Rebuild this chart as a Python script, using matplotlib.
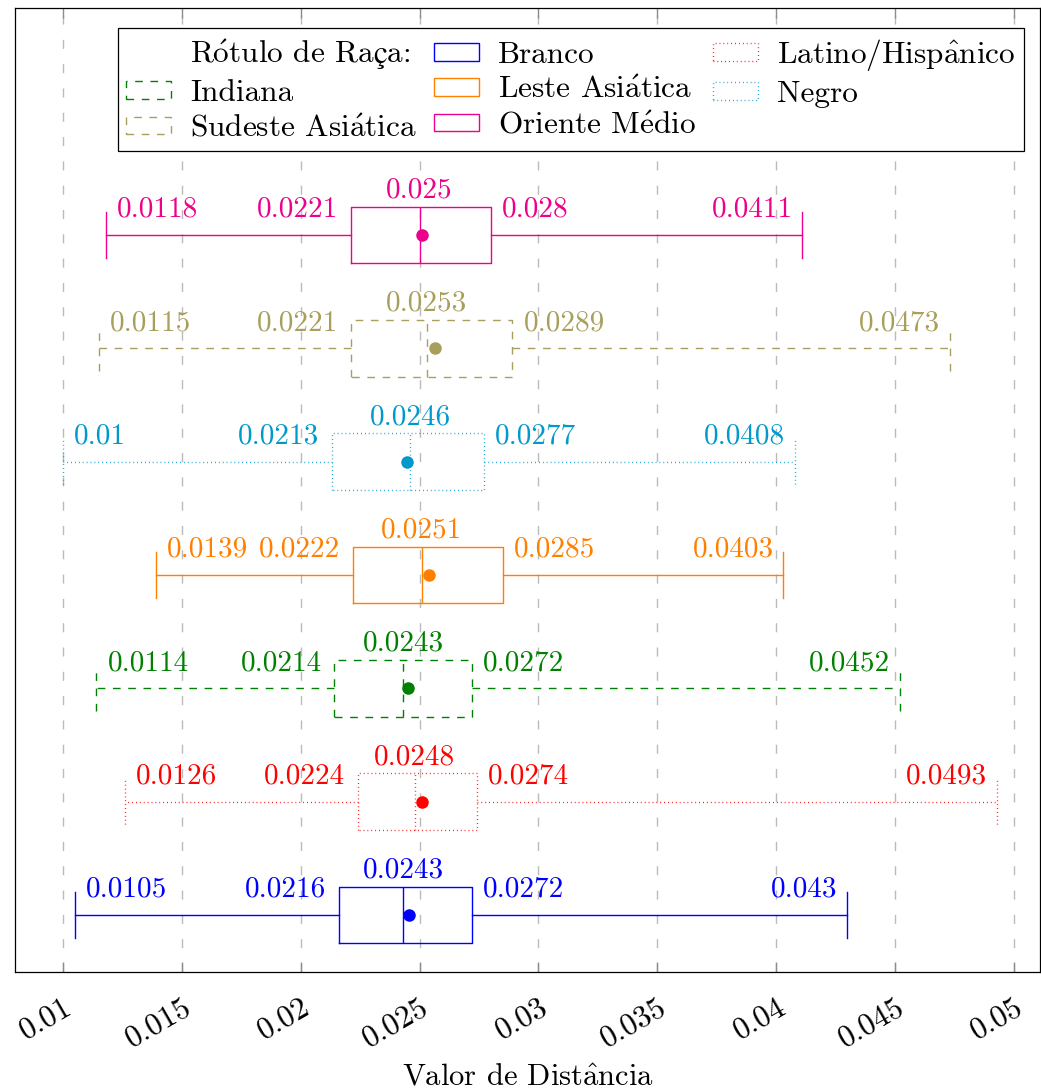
import numpy as np
import matplotlib
matplotlib.use("Agg")
import matplotlib.pyplot as plt
from matplotlib.patches import Patch

plt.rcParams['font.family'] = ['cmr10', 'STIXGeneral']
plt.rcParams['mathtext.fontset'] = 'cm'
plt.rcParams['axes.formatter.use_mathtext'] = True

# grupos de baixo para cima
grupos = ["Branco", "Latino/Hispânico", "Indiana", "Leste Asiática",
          "Negro", "Sudeste Asiática", "Oriente Médio"]
minimos = [0.0105, 0.0126, 0.0114, 0.0139, 0.01, 0.0115, 0.0118]
q1s = [0.0216, 0.0224, 0.0214, 0.0222, 0.0213, 0.0221, 0.0221]
medianas = [0.0243, 0.0248, 0.0243, 0.0251, 0.0246, 0.0253, 0.025]
q3s = [0.0272, 0.0274, 0.0272, 0.0285, 0.0277, 0.0289, 0.028]
maximos = [0.043, 0.0493, 0.0452, 0.0403, 0.0408, 0.0473, 0.0411]
medias = [0.02455, 0.0251, 0.0245, 0.0254, 0.02445, 0.02565, 0.0251]

cores = ["#0000FF", "#FF0000", "#008000", "#FF8000", "#0099CC", "#A89F5C", "#EC008C"]
tracado = (0, (5.5, 5.5))
pontilhado = (0, (0.6, 2.2))
estilos = ["-", pontilhado, tracado, "-", pontilhado, tracado, "-"]

xticks = [0.01, 0.015, 0.02, 0.025, 0.03, 0.035, 0.04, 0.045, 0.05]


# acentos com o fonte cm do mathtext
def tex(s):
    trocas = {"ó": r"$\mathrm{\acute{o}}$", "á": r"$\mathrm{\acute{a}}$",
              "é": r"$\mathrm{\acute{e}}$", "â": r"$\mathrm{\hat{a}}$",
              "ç": r"$\mathrm{ç}$"}
    for k, v in trocas.items():
        s = s.replace(k, v)
    return s


fig = plt.figure(figsize=(10.41, 10.89), dpi=100)
ax = fig.add_axes([15 / 1041, 1 - 972 / 1089, 1025 / 1041, 964 / 1089])

fs = 21
for i in range(len(grupos)):
    pos = i + 1
    cor = cores[i]
    ls = estilos[i]
    stats = [dict(med=medianas[i], q1=q1s[i], q3=q3s[i], whislo=minimos[i],
                  whishi=maximos[i], mean=medias[i], fliers=[])]
    props = dict(color=cor, linestyle=ls, linewidth=1.0)
    ax.bxp(stats, positions=[pos], widths=0.5, capwidths=0.4, vert=False,
           showmeans=True, boxprops=props, whiskerprops=props, capprops=props,
           medianprops=props,
           meanprops=dict(marker="o", markerfacecolor=cor, markeredgecolor=cor,
                          markersize=8, linestyle="none"),
           manage_ticks=False)

    ax.annotate(f"{minimos[i]:g}", (minimos[i], pos), xytext=(8, 13),
                textcoords="offset points", ha="left", va="baseline", color=cor, fontsize=fs)
    ax.annotate(f"{q1s[i]:g}", (q1s[i], pos), xytext=(-9, 13),
                textcoords="offset points", ha="right", va="baseline", color=cor, fontsize=fs)
    ax.annotate(f"{medianas[i]:g}", (medianas[i], pos), xytext=(0, 27),
                textcoords="offset points", ha="center", va="baseline", color=cor, fontsize=fs)
    ax.annotate(f"{q3s[i]:g}", (q3s[i], pos), xytext=(8, 13),
                textcoords="offset points", ha="left", va="baseline", color=cor, fontsize=fs)
    ax.annotate(f"{maximos[i]:g}", (maximos[i], pos), xytext=(-7, 13),
                textcoords="offset points", ha="right", va="baseline", color=cor, fontsize=fs)

ax.set_xlim(0.00798, 0.0511)
ax.set_ylim(0.497, 9.003)
ax.set_yticks([])
ax.set_xticks(xticks, labels=[f"{t:g}" for t in xticks], fontsize=22.5)
plt.setp(ax.get_xticklabels(), rotation=30, ha="right", rotation_mode="anchor")
ax.tick_params(axis="x", direction="in", length=7, width=1.0, color="#8C8C8C",
               top=True, pad=15)
ax.grid(axis="x", color="#BBBBBB", linestyle=(0, (6.5, 11)), linewidth=1.0)
ax.set_axisbelow(True)
ax.set_xlabel(tex("Valor de Distância"), fontsize=22, labelpad=8)
for s in ax.spines.values():
    s.set_linewidth(0.9)

# legenda
ordem = [2, 5, 0, 3, 6, 1, 4]
handles = [Patch(facecolor="none", edgecolor="none")]
labels = [tex("Rótulo de Raça:")]
for k in ordem:
    handles.append(Patch(facecolor="none", edgecolor=cores[k], linestyle=estilos[k], linewidth=1.0))
    labels.append(tex(grupos[k]))
leg = ax.legend(handles, labels, ncol=3, loc="upper right",
                bbox_to_anchor=((1024 - 15) / 1025, (972 - 28) / 964),
                fontsize=22.5, frameon=True, fancybox=False, framealpha=1,
                edgecolor="black", handlelength=1.44, handleheight=0.5,
                handletextpad=0.6, columnspacing=0.55, labelspacing=0.24,
                borderpad=0.28, borderaxespad=0)
leg.get_frame().set_linewidth(0.9)

fig.savefig("out.png", dpi=100)
